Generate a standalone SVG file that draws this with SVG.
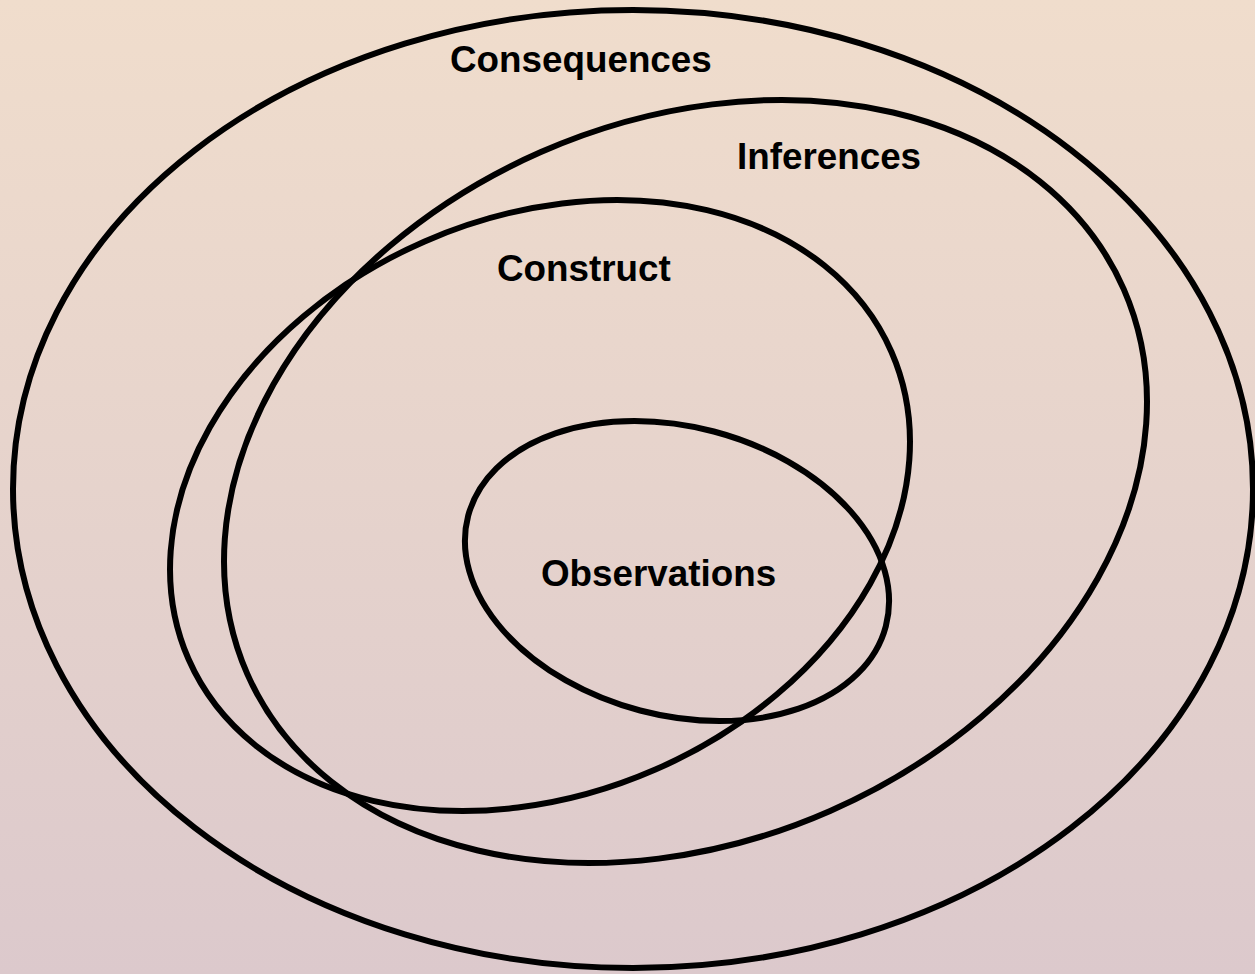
<svg xmlns="http://www.w3.org/2000/svg" width="1255" height="974" viewBox="0 0 1255 974">
  <defs>
    <linearGradient id="bg" x1="0" y1="0" x2="0" y2="1">
      <stop offset="0" stop-color="#F0DDCC"/>
      <stop offset="1" stop-color="#DCC9CC"/>
    </linearGradient>
  </defs>
  <style>
    .ring { fill: none; stroke: #000; stroke-width: 6; }
    .label { font-family: "Liberation Sans", Arial, sans-serif; font-weight: bold; font-size: 36.8px; fill: #000; }
  </style>
  <rect x="0" y="0" width="1255" height="974" fill="url(#bg)"/>
  <g id="consequences">
    <ellipse class="ring" cx="633" cy="489" rx="620" ry="479"/>
    <text class="label" x="450" y="72">Consequences</text>
  </g>
  <g id="inferences">
    <ellipse class="ring" cx="685.5" cy="481.5" rx="478.6" ry="359.8" transform="rotate(-23.7 685.5 481.5)"/>
    <text class="label" x="737" y="169">Inferences</text>
  </g>
  <g id="construct">
    <ellipse class="ring" cx="540" cy="505.5" rx="383.6" ry="288.2" transform="rotate(-23.6 540 505.5)"/>
    <text class="label" x="497" y="281">Construct</text>
  </g>
  <g id="observations">
    <ellipse class="ring" cx="677" cy="571" rx="216" ry="144.3" transform="rotate(14.8 677 571)"/>
    <text class="label" x="541" y="586">Observations</text>
  </g>
  <g id="connectors"></g>
</svg>
